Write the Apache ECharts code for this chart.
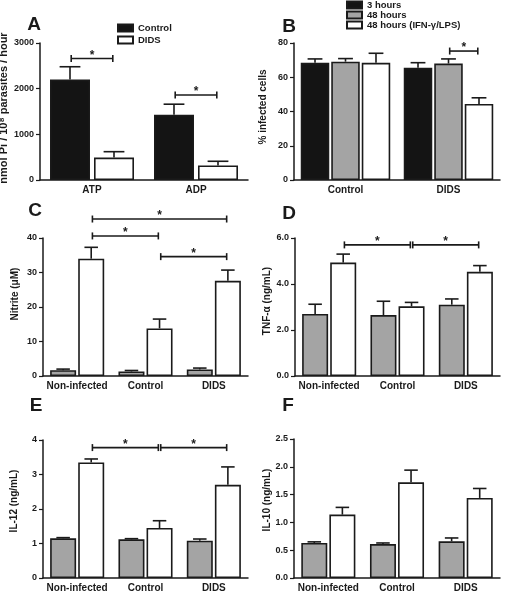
<!DOCTYPE html>
<html>
<head>
<meta charset="utf-8">
<script src="https://cdn.jsdelivr.net/npm/echarts@6/dist/echarts.min.js"></script>
<style>
html, body { margin: 0; padding: 0; background: #fff; }
#chart { width: 506px; height: 600px; }
</style>
</head>
<body>
<div id="chart"></div>
<script>
// ---- data ----
const catsA = ['ATP', 'ADP'];
const aControl = [2200, 1430];
const aControlErr = [280, 230];
const aDids = [490, 320];
const aDidsErr = [130, 90];
const aBrackets = [[0, 0, 0, 1, 2660], [1, 0, 1, 1, 1860]];

const catsB = ['Control', 'DIDS'];
const b3h = [68.4, 65.5];
const b3hErr = [2.3, 3.0];
const b48h = [69.1, 68.0];
const b48hErr = [1.8, 2.7];
const bIfn = [68.4, 44.4];
const bIfnErr = [5.6, 3.6];
const bBrackets = [[1, 1, 1, 2, 75.3]];

const catsCF = ['Non-infected', 'Control', 'DIDS'];
const cGray = [1.7, 1.3, 1.9];
const cGrayErr = [0.3, 0.3, 0.4];
const cWhite = [34.0, 13.8, 27.6];
const cWhiteErr = [3.3, 2.7, 3.1];
const cBrackets = [[0, 1, 2, 1, 45.5], [0, 1, 1, 1, 40.6], [1, 1, 2, 1, 34.6]];

const dGray = [2.7, 2.65, 3.1];
const dGrayErr = [0.42, 0.6, 0.25];
const dWhite = [4.93, 3.03, 4.53];
const dWhiteErr = [0.37, 0.17, 0.27];
const dBrackets = [[0, 1, 1, 1, 5.7], [1, 1, 2, 1, 5.7]];

const eGray = [1.15, 1.12, 1.08];
const eGrayErr = [0.02, 0.02, 0.05];
const eWhite = [3.35, 1.45, 2.70];
const eWhiteErr = [0.1, 0.21, 0.52];
const eBrackets = [[0, 1, 1, 1, 3.78], [1, 1, 2, 1, 3.78]];

const fGray = [0.63, 0.61, 0.66];
const fGrayErr = [0.02, 0.02, 0.06];
const fWhite = [1.14, 1.72, 1.44];
const fWhiteErr = [0.13, 0.22, 0.17];

// ---- style ----
const FONT = '"Liberation Sans", Arial, sans-serif';
const INK = '#1a1a1a';
const GRAY = '#a4a4a4';
const BLACK = '#141414';

const panels = [
  { letter: 'A', lx: 34, ly: 25, grid: { left: 40, top: 43, width: 208, height: 137 },
    cats: catsA, max: 3000, interval: 1000, digits: 0, barWidth: 40, gap: 0.1,
    yName: 'nmol Pi / 10⁸ parasites / hour', nx: 4, ny: 108,
    bars: [{ name: 'Control', data: aControl, err: aControlErr, color: BLACK },
           { name: 'DIDS', data: aDids, err: aDidsErr, color: '#fff' }],
    brackets: aBrackets },
  { letter: 'B', lx: 289, ly: 27, grid: { left: 294, top: 43, width: 206, height: 137 },
    cats: catsB, max: 80, interval: 20, digits: 0, barWidth: 28.5, gap: 0.07,
    yName: '% infected cells', nx: 263, ny: 107,
    bars: [{ name: '3 hours', data: b3h, err: b3hErr, color: BLACK },
           { name: '48 hours', data: b48h, err: b48hErr, color: GRAY },
           { name: '48 hours (IFN-γ/LPS)', data: bIfn, err: bIfnErr, color: '#fff' }],
    brackets: bBrackets },
  { letter: 'C', lx: 35, ly: 211, grid: { left: 43, top: 238, width: 205, height: 138 },
    cats: catsCF, max: 40, interval: 10, digits: 0, barWidth: 26, gap: 0.08,
    yName: 'Nitrite (μM)', nx: 15, ny: 294,
    bars: [{ name: 'C1', data: cGray, err: cGrayErr, color: GRAY },
           { name: 'C2', data: cWhite, err: cWhiteErr, color: '#fff' }],
    brackets: cBrackets },
  { letter: 'D', lx: 289, ly: 214, grid: { left: 295, top: 238, width: 205, height: 138 },
    cats: catsCF, max: 6, interval: 2, digits: 1, barWidth: 26, gap: 0.08,
    yName: 'TNF-α (ng/mL)', nx: 267, ny: 301,
    bars: [{ name: 'D1', data: dGray, err: dGrayErr, color: GRAY },
           { name: 'D2', data: dWhite, err: dWhiteErr, color: '#fff' }],
    brackets: dBrackets },
  { letter: 'E', lx: 36, ly: 406, grid: { left: 43, top: 440, width: 205, height: 138 },
    cats: catsCF, max: 4, interval: 1, digits: 0, barWidth: 26, gap: 0.08,
    yName: 'IL-12 (ng/mL)', nx: 14, ny: 501,
    bars: [{ name: 'E1', data: eGray, err: eGrayErr, color: GRAY },
           { name: 'E2', data: eWhite, err: eWhiteErr, color: '#fff' }],
    brackets: eBrackets },
  { letter: 'F', lx: 288, ly: 406, grid: { left: 294, top: 439, width: 206, height: 139 },
    cats: catsCF, max: 2.5, interval: 0.5, digits: 1, barWidth: 26, gap: 0.08,
    yName: 'IL-10 (ng/mL)', nx: 267, ny: 500,
    bars: [{ name: 'F1', data: fGray, err: fGrayErr, color: GRAY },
           { name: 'F2', data: fWhite, err: fWhiteErr, color: '#fff' }],
    brackets: [] }
];

// x position of bar j inside a category, same layout rule as the bar series
function barX(p, api, cat, j) {
  const n = p.bars.length;
  const total = n * p.barWidth + (n - 1) * p.gap * p.barWidth;
  const c = api.coord([cat, 0])[0];
  return c - total / 2 + p.barWidth / 2 + j * p.barWidth * (1 + p.gap);
}

const grids = [], xAxes = [], yAxes = [], series = [], graphics = [];

panels.forEach(function (p, i) {
  grids.push(p.grid);
  xAxes.push({
    gridIndex: i, type: 'category', data: p.cats,
    axisTick: { show: false },
    axisLine: { lineStyle: { color: INK, width: 1.5 } },
    axisLabel: { interval: 0, color: INK, fontFamily: FONT, fontWeight: 'bold', fontSize: 10, margin: 5 }
  });
  yAxes.push({
    gridIndex: i, type: 'value', min: 0, max: p.max, interval: p.interval,
    axisLine: { show: true, lineStyle: { color: INK, width: 1.5 } },
    axisTick: { show: true, length: 4, lineStyle: { color: INK, width: 1.2 } },
    splitLine: { show: false },
    axisLabel: {
      color: INK, fontFamily: FONT, fontWeight: 'bold', fontSize: 9, margin: 6,
      formatter: function (v) { return v.toFixed(p.digits); }
    }
  });

  p.bars.forEach(function (b) {
    series.push({
      type: 'bar', name: b.name, xAxisIndex: i, yAxisIndex: i,
      barWidth: p.barWidth, barGap: (p.gap * 100) + '%',
      itemStyle: { color: b.color, borderColor: INK, borderWidth: 1.6 },
      data: b.data
    });
  });

  // upper error whiskers
  const errData = [];
  p.bars.forEach(function (b, j) {
    b.data.forEach(function (v, k) { errData.push([k, j, v, b.err[k]]); });
  });
  series.push({
    type: 'custom', xAxisIndex: i, yAxisIndex: i, z: 3, clip: false,
    data: errData,
    renderItem: function (params, api) {
      const cat = api.value(0), j = api.value(1), v = api.value(2), e = api.value(3);
      const x = barX(p, api, cat, j);
      const y0 = api.coord([cat, v])[1];
      const y1 = api.coord([cat, v + e])[1];
      const cap = p.barWidth * 0.26;
      const st = { stroke: INK, lineWidth: 1.6 };
      return { type: 'group', children: [
        { type: 'line', shape: { x1: x, y1: y0, x2: x, y2: y1 }, style: st },
        { type: 'line', shape: { x1: x - cap, y1: y1, x2: x + cap, y2: y1 }, style: st }
      ] };
    }
  });

  // significance brackets
  if (p.brackets.length) {
    series.push({
      type: 'custom', xAxisIndex: i, yAxisIndex: i, z: 3, clip: false,
      data: p.brackets,
      renderItem: function (params, api) {
        const x1 = barX(p, api, api.value(0), api.value(1)) + 1.2;
        const x2 = barX(p, api, api.value(2), api.value(3)) - 1.2;
        const y = api.coord([api.value(0), api.value(4)])[1];
        const st = { stroke: INK, lineWidth: 1.6 };
        return { type: 'group', children: [
          { type: 'line', shape: { x1: x1, y1: y, x2: x2, y2: y }, style: st },
          { type: 'line', shape: { x1: x1, y1: y - 3.5, x2: x1, y2: y + 3.5 }, style: st },
          { type: 'line', shape: { x1: x2, y1: y - 3.5, x2: x2, y2: y + 3.5 }, style: st },
          { type: 'text', style: { text: '*', x: (x1 + x2) / 2, y: y - 3, align: 'center',
            verticalAlign: 'middle', fill: INK, font: 'bold 12px ' + FONT } }
        ] };
      }
    });
  }

  graphics.push({
    type: 'text', x: p.lx, y: p.ly,
    style: { text: p.letter, fill: INK, font: 'bold 19px ' + FONT, align: 'center', verticalAlign: 'middle' }
  });
  graphics.push({
    type: 'text', x: p.nx, y: p.ny, rotation: Math.PI / 2,
    style: { text: p.yName, fill: INK, font: 'bold ' + (i === 0 ? 11 : 10) + 'px ' + FONT,
      align: 'center', verticalAlign: 'middle' }
  });
});

const legendText = { color: INK, fontFamily: FONT, fontWeight: 'bold', fontSize: 9.5 };

const chart = echarts.init(document.getElementById('chart'));
chart.setOption({
  backgroundColor: '#fff',
  animation: false,
  grid: grids,
  xAxis: xAxes,
  yAxis: yAxes,
  legend: [
    { data: ['Control', 'DIDS'], left: 117, top: 22, orient: 'vertical', padding: 0,
      itemWidth: 15, itemHeight: 7, itemGap: 0, icon: 'rect', selectedMode: false,
      textStyle: Object.assign({ lineHeight: 12 }, legendText) },
    { data: ['3 hours', '48 hours', '48 hours (IFN-γ/LPS)'], left: 346, top: 0, orient: 'vertical', padding: 0,
      itemWidth: 15, itemHeight: 7, itemGap: 0, icon: 'rect', selectedMode: false,
      textStyle: Object.assign({ lineHeight: 9.8 }, legendText) }
  ],
  graphic: graphics,
  series: series
});
</script>
</body>
</html>
